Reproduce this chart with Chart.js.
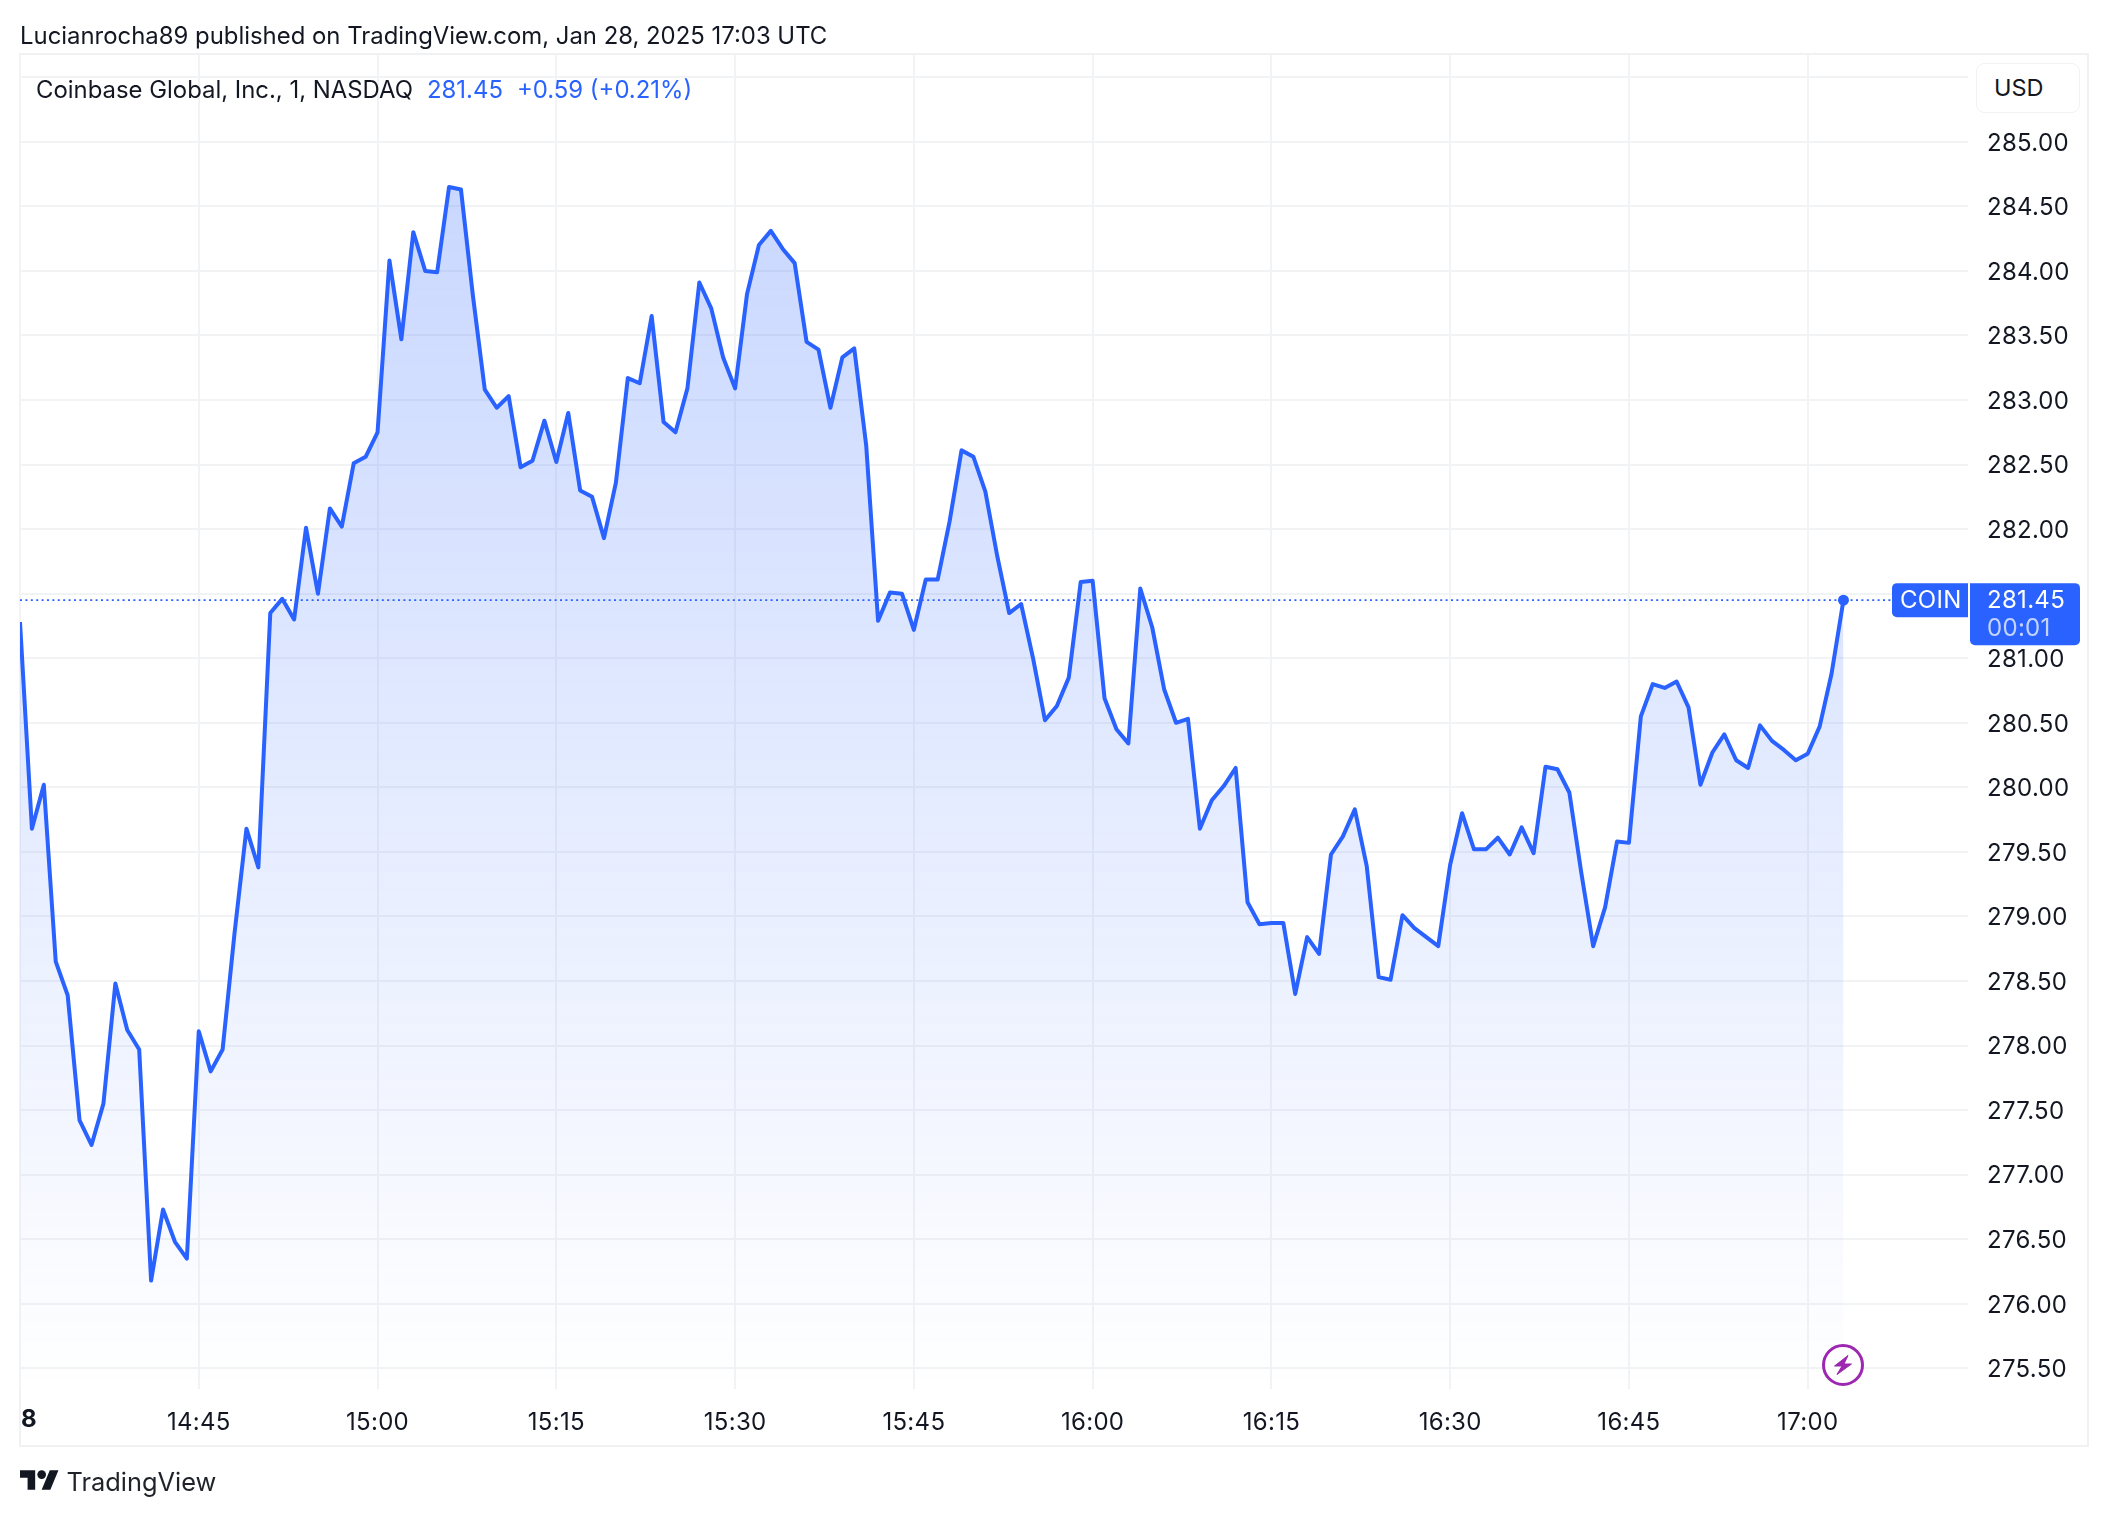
<!DOCTYPE html>
<html>
<head>
<meta charset="utf-8">
<script src="https://cdn.jsdelivr.net/npm/chart.js@4"></script>
<style>
html,body{margin:0;padding:0;background:#fff;width:2108px;height:1516px;overflow:hidden}
body{position:relative;font-family:Inter,"Open Sans",sans-serif;color:#131722}
canvas{position:absolute;left:0;top:0}
.t{position:absolute;white-space:pre;line-height:1}
svg{position:absolute}
</style>
</head>
<body>
<canvas id="c" width="2108" height="1516"></canvas>
<div class="t" style="left:20px;top:24px;font-size:23.9px">Lucianrocha89 published on TradingView.com, Jan 28, 2025 17:03 UTC</div>
<div class="t" style="left:36px;top:78px;font-size:23.9px">Coinbase Global, Inc., 1, NASDAQ</div>
<div class="t" style="left:427px;top:78px;font-size:23.9px;color:#2962ff">281.45</div>
<div class="t" style="left:517px;top:78px;font-size:23.9px;color:#2962ff">+0.59 (+0.21%)</div>
<div style="position:absolute;left:1976px;top:63px;width:104px;height:50px;box-sizing:border-box;border:1.5px solid #f0f2f5;border-radius:8px;background:#fff"></div>
<div class="t" style="left:1994px;top:76px;font-size:23.5px">USD</div>
<svg style="left:20px;top:1470px" width="39" height="20" viewBox="0 4 36 18"><path fill="#131722" d="M14 22H7V11H0V4h14v18zM28 22h-8l7.5-18h8L28 22z"/><circle fill="#131722" cx="20" cy="8" r="4"/></svg>
<div class="t" style="left:66.5px;top:1469px;font-size:25.4px;color:#1f2229">TradingView</div>
<svg style="left:1821px;top:1343px" width="44" height="44" viewBox="-22 -22 44 44"><circle r="19.5" fill="#fff" stroke="#9c27b0" stroke-width="3"/><path fill="#9c27b0" stroke="#9c27b0" stroke-width="1" stroke-linejoin="round" d="M5-9.5-8.5 1H-1L-6 9.5 8.5-1H1z"/></svg>
<script>
const prices = [281.28,279.68,280.02,278.65,278.39,277.42,277.23,277.55,278.48,278.12,277.97,276.18,276.73,276.48,276.35,278.11,277.80,277.97,278.87,279.68,279.38,281.35,281.46,281.30,282.01,281.50,282.16,282.02,282.51,282.56,282.75,284.08,283.47,284.30,284.00,283.99,284.65,284.63,283.81,283.08,282.94,283.03,282.48,282.53,282.84,282.52,282.90,282.30,282.25,281.93,282.36,283.17,283.13,283.65,282.83,282.75,283.09,283.91,283.71,283.33,283.09,283.82,284.20,284.31,284.17,284.06,283.45,283.39,282.94,283.33,283.40,282.65,281.29,281.51,281.50,281.22,281.61,281.61,282.06,282.61,282.56,282.29,281.79,281.35,281.42,281.00,280.52,280.63,280.85,281.59,281.60,280.69,280.45,280.34,281.54,281.24,280.76,280.50,280.53,279.68,279.90,280.01,280.15,279.11,278.94,278.95,278.95,278.40,278.84,278.71,279.48,279.62,279.83,279.39,278.53,278.51,279.01,278.91,278.84,278.77,279.40,279.80,279.52,279.52,279.61,279.48,279.69,279.49,280.16,280.14,279.96,279.34,278.77,279.07,279.58,279.57,280.55,280.80,280.77,280.82,280.62,280.02,280.27,280.41,280.21,280.15,280.48,280.36,280.29,280.21,280.26,280.47,280.88,281.45];
const xTickLabels = ['8','14:45','15:00','15:15','15:30','15:45','16:00','16:15','16:30','16:45','17:00'];
const hiddenYTicks = ['285.50','281.50'];
const lastPrice = 281.45;
const symbol = 'COIN';
const countdown = '00:01';
const minutesPerTick = 15;
const xMaxMinutes = 163.45;
const yMin = 275.34, yMax = 285.68;

const BLUE = '#2962ff', FONT = 'Inter, "Open Sans", sans-serif', GRID = '#f2f3f5';
const TICKFONT = 24;

function tag(ctx, x, y, w, h, r){
  ctx.beginPath();
  ctx.roundRect(x, y, w, h, r);
  ctx.fillStyle = BLUE;
  ctx.fill();
}

const decor = {
  id:'decor',
  beforeDraw(chart){
    const c = chart.ctx;
    c.letterSpacing = '0.3px';
    c.save();
    c.strokeStyle = '#f0f1f3';
    c.lineWidth = 2;
    c.strokeRect(20, 54, 2068, 1392);
    c.restore();
  },
  afterDraw(chart){
    const c = chart.ctx, y = chart.scales.y.getPixelForValue(lastPrice), x = chart.scales.x;
    c.save();
    tag(c, 1892, y-17, 76, 34, [5,0,0,5]);
    tag(c, 1970, y-17, 110, 62, [0,5,5,5]);
    c.font = TICKFONT + 'px ' + FONT;
    c.textBaseline = 'middle';
    c.textAlign = 'left';
    c.fillStyle = '#fff';
    c.fillText(symbol, 1900, y+1);
    c.fillText(lastPrice.toFixed(2), 1987, y+1);
    c.fillStyle = 'rgba(255,255,255,.72)';
    c.fillText(countdown, 1987, y+29);
    c.fillStyle = '#131722';
    c.font = 'bold ' + TICKFONT + 'px ' + FONT;
    c.fillText(xTickLabels[0], x.getPixelForValue(0)+1, 1420);
    c.restore();
  }
};

new Chart(document.getElementById('c'), {
  type:'line',
  data:{datasets:[
    {
      data:prices.map((v,i)=>({x:i,y:v})),
      borderColor:BLUE, borderWidth:4, tension:0,
      borderJoinStyle:'round',
      pointRadius:c=>c.dataIndex===prices.length-1?5.5:0,
      pointBackgroundColor:BLUE, pointBorderWidth:0,
      fill:'start',
      backgroundColor:c=>{
        const ch=c.chart; if(!ch.chartArea) return 'rgba(41,98,255,.1)';
        const g=ch.ctx.createLinearGradient(0,ch.scales.y.getPixelForValue(Math.max(...prices)),0,ch.chartArea.bottom);
        g.addColorStop(0,'rgba(41,98,255,.25)');
        g.addColorStop(1,'rgba(41,98,255,0)');
        return g;
      }
    },
    {
      data:[{x:0,y:lastPrice},{x:xMaxMinutes,y:lastPrice}],
      borderColor:BLUE, borderWidth:1.6, borderDash:[2,3.4], pointRadius:0, fill:false
    }
  ]},
  options:{
    responsive:false, animation:false, devicePixelRatio:1,
    layout:{padding:{left:20,top:54,right:20,bottom:70}},
    plugins:{legend:{display:false},tooltip:{enabled:false},title:{display:false}},
    scales:{
      x:{
        type:'linear', min:0, max:xMaxMinutes,
        afterFit(s){s.height=57},
        border:{display:false},
        grid:{color:GRID,lineWidth:2,drawTicks:false},
        ticks:{
          stepSize:minutesPerTick, autoSkip:false, maxRotation:0, includeBounds:false, padding:19,
          color:'#131722', font:{family:FONT,size:TICKFONT},
          callback:v=>{const i=v/minutesPerTick; return i===0?'':(xTickLabels[i]||'')}
        }
      },
      y:{
        position:'right', min:yMin, max:yMax,
        afterFit(s){s.width=120},
        border:{display:false},
        grid:{color:GRID,lineWidth:2,drawTicks:false},
        ticks:{
          stepSize:0.5, autoSkip:false, includeBounds:false, padding:19, labelOffset:1.5,
          color:'#131722', font:{family:FONT,size:TICKFONT},
          callback:v=>{const s=v.toFixed(2); return hiddenYTicks.includes(s)?'':s}
        }
      }
    }
  },
  plugins:[decor]
});
</script>
</body>
</html>
